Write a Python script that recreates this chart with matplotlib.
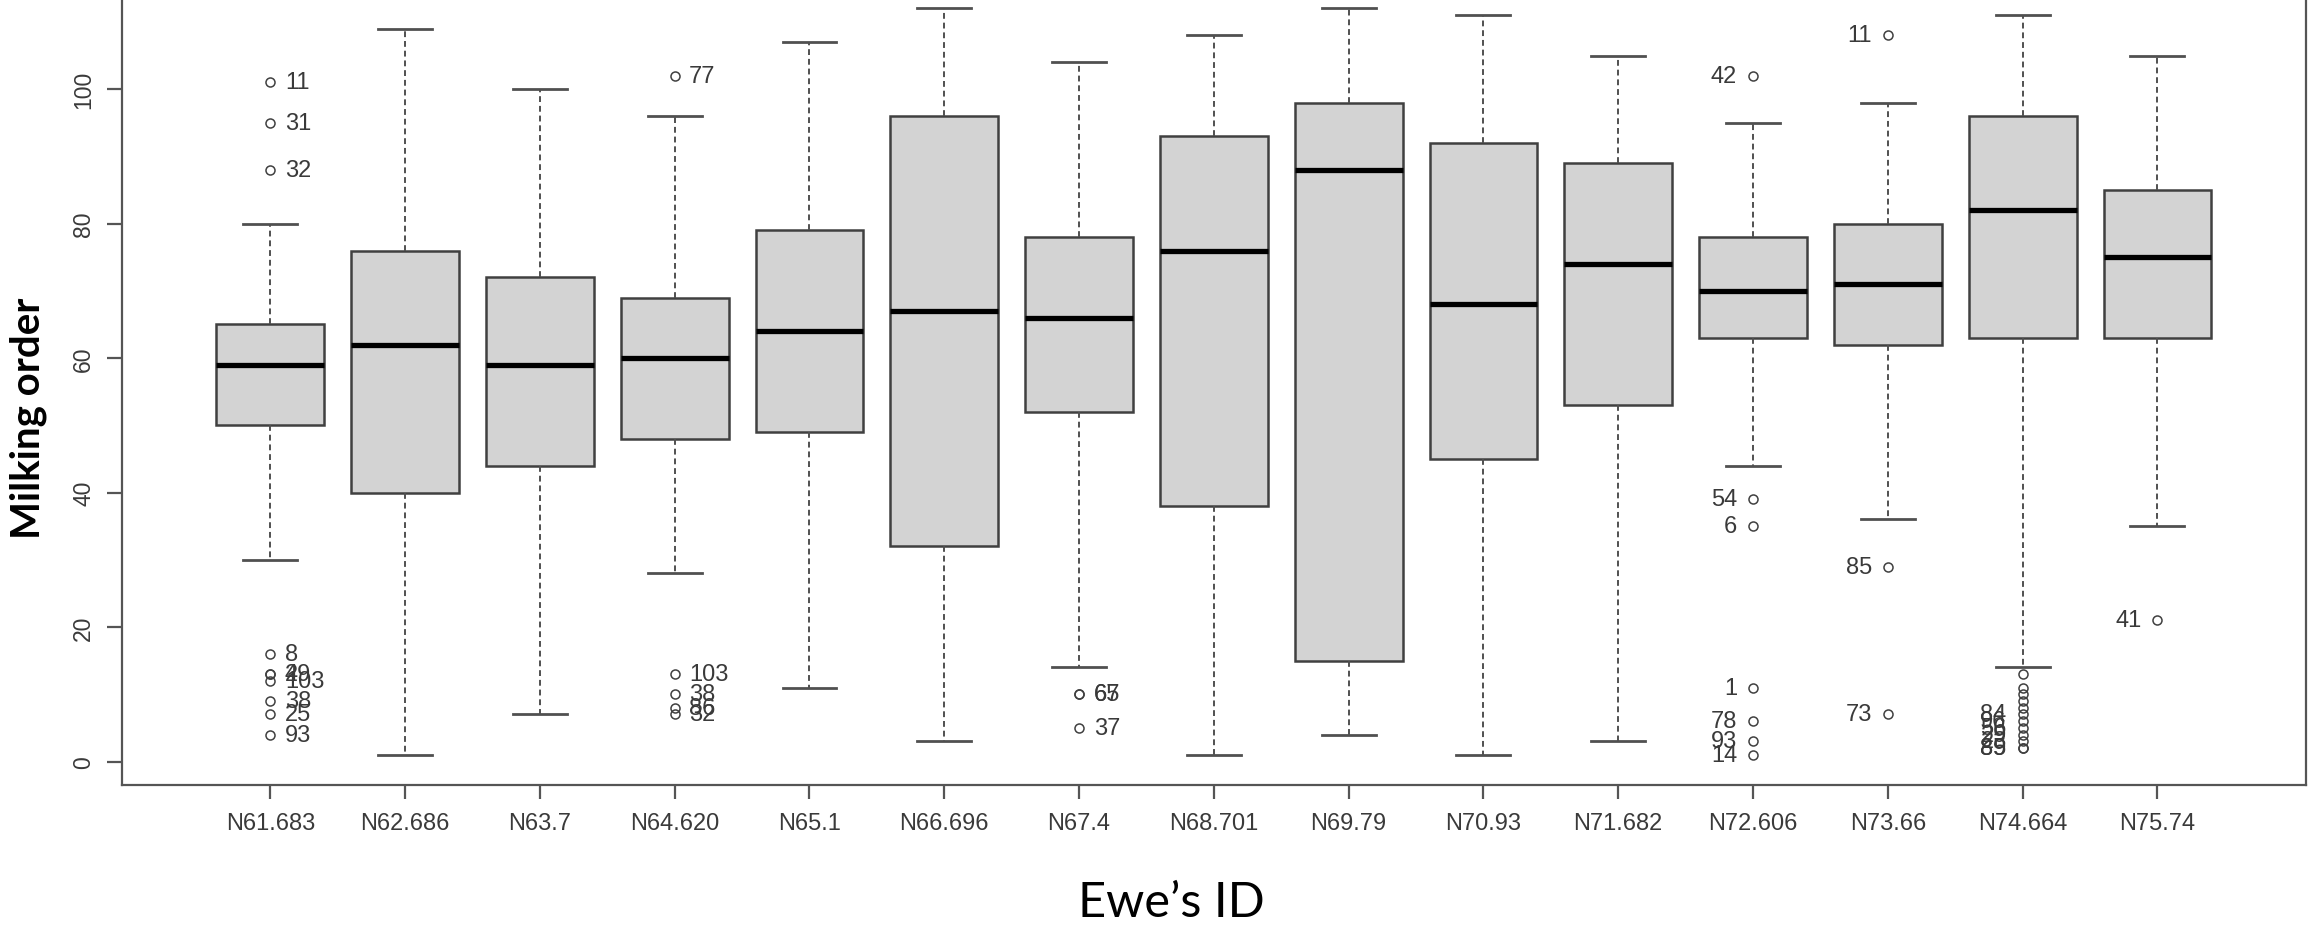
import matplotlib
matplotlib.use("Agg")
import matplotlib.pyplot as plt

# ---------------- data ----------------
categories = ["N61.683", "N62.686", "N63.7", "N64.620", "N65.1", "N66.696", "N67.4",
              "N68.701", "N69.79", "N70.93", "N71.682", "N72.606", "N73.66", "N74.664", "N75.74"]
whisker_low = [30, 1, 7, 28, 11, 3, 14, 1, 4, 1, 3, 44, 36, 14, 35]
q1 = [50, 40, 44, 48, 49, 32, 52, 38, 15, 45, 53, 63, 62, 63, 63]
median = [59, 62, 59, 60, 64, 67, 66, 76, 88, 68, 74, 70, 71, 82, 75]
q3 = [65, 76, 72, 69, 79, 96, 78, 93, 98, 92, 89, 78, 80, 96, 85]
whisker_high = [80, 109, 100, 96, 107, 112, 104, 108, 112, 111, 105, 95, 98, 111, 105]

outlier_values = [
    [101, 95, 88, 16, 13, 13, 12, 9, 7, 4],
    [], [],
    [102, 13, 10, 8, 7],
    [], [],
    [10, 10, 5],
    [], [], [], [],
    [102, 39, 35, 11, 6, 3, 1],
    [108, 29, 7],
    [13, 11, 10, 9, 8, 7, 6, 5, 4, 3, 2, 2],
    [21],
]
outlier_labels = [
    ["11", "31", "32", "8", "29", "4", "103", "38", "25", "93"],
    [], [],
    ["77", "103", "38", "86", "32"],
    [], [],
    ["65", "67", "37"],
    [], [], [], [],
    ["42", "54", "6", "1", "78", "93", "14"],
    ["11", "85", "73"],
    ["", "", "", "", "", "84", "96", "56", "29", "23", "89", "85"],
    ["41"],
]
label_side = ["right", "", "", "right", "", "", "right", "", "", "", "",
              "left", "left", "left", "left"]

y_ticks = [0, 20, 40, 60, 80, 100]
x_title = "Ewe\u2019s ID"
y_title = "Milking order"

# ---------------- figure ----------------
W, H = 2313, 928
fig = plt.figure(figsize=(W / 100, H / 100), dpi=100)
ax = fig.add_axes([122 / W, 1 - 785.7 / H, (2305.7 - 122) / W, (785.7 + 20.4) / H])

positions = list(range(1, len(categories) + 1))
stats = []
for i in range(len(categories)):
    stats.append(dict(med=median[i], q1=q1[i], q3=q3[i],
                      whislo=whisker_low[i], whishi=whisker_high[i],
                      fliers=outlier_values[i], label=categories[i]))

edge = "#404040"
wcol = "#505050"
ax.bxp(stats, positions=positions, widths=0.8, patch_artist=True,
       capwidths=0.4,
       boxprops=dict(facecolor="#D3D3D3", edgecolor=edge, linewidth=1.8),
       medianprops=dict(color="black", linewidth=3.8, solid_capstyle="butt"),
       whiskerprops=dict(color=wcol, linewidth=1.4, linestyle=(0, (3, 2))),
       capprops=dict(color=wcol, linewidth=2.0),
       flierprops=dict(marker="o", markerfacecolor="none", markeredgecolor=edge,
                       markersize=6.5, markeredgewidth=1.1, linestyle="none"),
       zorder=2)

txt_col = "#3a3a3a"
for i, (vals, labs) in enumerate(zip(outlier_values, outlier_labels)):
    for v, lab in zip(vals, labs):
        if not lab:
            continue
        if label_side[i] == "right":
            ax.annotate(lab, (positions[i], v), xytext=(10.5, 0), textcoords="offset points",
                        ha="left", va="center", fontsize=17, color=txt_col,
                        family="Liberation Sans")
        else:
            ax.annotate(lab, (positions[i], v), xytext=(-11.5, 0), textcoords="offset points",
                        ha="right", va="center", fontsize=17, color=txt_col,
                        family="Liberation Sans")

ax.set_xlim(-0.1, 16.1)
ax.set_ylim(-3.44, 116.44)

ax.set_xticks(positions)
ax.set_xticklabels(categories, fontsize=17, color=txt_col, family="Liberation Sans")
ax.set_yticks(y_ticks)
ax.set_yticklabels([str(t) for t in y_ticks], fontsize=16.5, color=txt_col,
                   family="Liberation Sans", rotation=90, va="center")

spine_col = "#555555"
for s in ["left", "bottom", "right"]:
    ax.spines[s].set_color(spine_col)
    ax.spines[s].set_linewidth(1.6)
ax.spines["top"].set_visible(False)
ax.tick_params(axis="x", length=10, width=1.6, color=spine_col, pad=10)
ax.tick_params(axis="y", length=10.8, width=1.6, color=spine_col, pad=8.5)

fig.text(28 / W, 1 - 418 / H, y_title, rotation=90, ha="center", va="center",
         fontsize=29, fontweight="bold", family="Lato", color="black")
fig.text(1171 / W, 1 - 903 / H, x_title, ha="center", va="center",
         fontsize=35, family="Lato", color="black")

fig.savefig("out.png", dpi=100)
